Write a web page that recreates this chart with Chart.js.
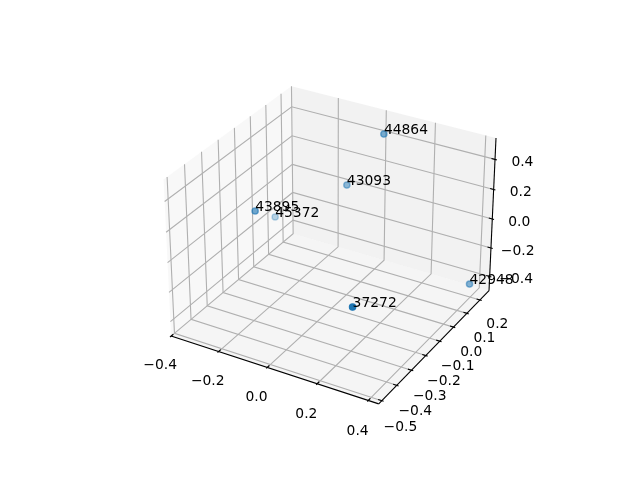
<!DOCTYPE html>
<html lang="en">
<head>
<meta charset="UTF-8">
<title>3D scatter</title>
<script src="https://cdn.jsdelivr.net/npm/chart.js"></script>
<style>
    body { margin: 0; background: #fff; }
</style>
</head>
<body>
<canvas id="chart" width="640" height="480"></canvas>
<script>
// point labels and their 3D positions
const labels = ['44864', '43093', '43895', '45372', '42948', '37272'];
const xs = [0.046, -0.071, -0.258, -0.370, 0.425, 0.288];
const ys = [0.175, 0.118, -0.192, 0.103, 0.141, -0.438];
const zs = [0.474, 0.126, 0.125, -0.220, -0.341, -0.023];

// axis limits and ticks
const xLim = [-0.40, 0.44];
const yLim = [-0.52, 0.27];
const zLim = [-0.50, 0.54];
const xTicks = [-0.4, -0.2, 0.0, 0.2, 0.4];
const yTicks = [-0.5, -0.4, -0.3, -0.2, -0.1, 0.0, 0.1, 0.2];
const zTicks = [-0.4, -0.2, 0.0, 0.2, 0.4];

// view like matplotlib's default 3D axes (elev 30, azim -60)
const elev = 30 * Math.PI / 180, azim = -60 * Math.PI / 180, dist = 10;
const norm = Math.hypot(4, 4, 3);
const aspect = [4, 4, 3].map(v => v * 1.8294640721620434 * 25 / 24 / norm);
const R = aspect.map(v => v / 2);
const w = [Math.cos(elev) * Math.cos(azim), Math.cos(elev) * Math.sin(azim), Math.sin(elev)];
const eye = R.map((r, i) => r + dist * w[i]);
let u = [-w[1], w[0], 0];
const ul = Math.hypot(...u);
u = u.map(c => c / ul);
const v = [w[1] * u[2] - w[2] * u[1], w[2] * u[0] - w[0] * u[2], w[0] * u[1] - w[1] * u[0]];
const dot = (a, b) => a[0] * b[0] + a[1] * b[1] + a[2] * b[2];
const lims = [xLim, yLim, zLim];

function project(x, y, z) {
    const p = [x, y, z].map((c, i) => (c - lims[i][0]) / (lims[i][1] - lims[i][0]) * aspect[i]);
    const d = p.map((c, i) => c - eye[i]);
    const zv = dot(w, d);
    return [dot(u, d) / -zv, dot(v, d) / -zv, dist / zv];
}

const pts = xs.map((x, i) => {
    const q = project(x, ys[i], zs[i]);
    return { x: q[0], y: q[1], d: q[2] };
});
const dmin = Math.min(...pts.map(p => p.d));
const dmax = Math.max(...pts.map(p => p.d));
const colors = pts.map(p => 'rgba(31,119,180,' + (1 - 0.7 * (p.d - dmin) / (dmax - dmin)).toFixed(3) + ')');

const fmt = t => (t < 0 ? '\u2212' : '') + Math.abs(t).toFixed(1);

const box3d = {
    id: 'box3d',
    beforeDatasetsDraw(chart) {
        const ctx = chart.ctx;
        const sx = chart.scales.x, sy = chart.scales.y;
        const px = (x, y, z) => {
            const q = project(x, y, z);
            return [sx.getPixelForValue(q[0]), sy.getPixelForValue(q[1])];
        };
        const [x0, x1] = xLim, [y0, y1] = yLim, [z0, z1] = zLim;
        const dx = (x1 - x0) / 12, dy = (y1 - y0) / 12, dz = (z1 - z0) / 12;

        const poly = (corners, fill) => {
            ctx.beginPath();
            corners.forEach((c, i) => {
                const p = px(...c);
                if (i === 0) ctx.moveTo(p[0], p[1]); else ctx.lineTo(p[0], p[1]);
            });
            ctx.closePath();
            ctx.fillStyle = fill;
            ctx.fill();
        };
        const path = (list, color, lw) => {
            ctx.beginPath();
            list.forEach((c, i) => {
                const p = px(...c);
                if (i === 0) ctx.moveTo(p[0], p[1]); else ctx.lineTo(p[0], p[1]);
            });
            ctx.strokeStyle = color;
            ctx.lineWidth = lw;
            ctx.stroke();
        };

        ctx.save();
        // panes
        poly([[x0, y0, z0], [x0, y1, z0], [x0, y1, z1], [x0, y0, z1]], 'rgba(242,242,242,0.5)');
        poly([[x0, y1, z0], [x1, y1, z0], [x1, y1, z1], [x0, y1, z1]], 'rgba(230,230,230,0.5)');
        poly([[x0, y0, z0], [x1, y0, z0], [x1, y1, z0], [x0, y1, z0]], 'rgba(236,236,236,0.5)');

        // grid
        const gc = '#b0b0b0', glw = 1.1;
        xTicks.forEach(t => path([[t, y0, z0], [t, y1, z0], [t, y1, z1]], gc, glw));
        yTicks.forEach(t => path([[x0, t, z1], [x0, t, z0], [x1, t, z0]], gc, glw));
        zTicks.forEach(t => path([[x1, y1, t], [x0, y1, t], [x0, y0, t]], gc, glw));

        // axis lines
        path([[x0, y0, z0], [x1, y0, z0]], '#000', 1.1);
        path([[x1, y0, z0], [x1, y1, z0]], '#000', 1.1);
        path([[x1, y1, z0], [x1, y1, z1]], '#000', 1.1);

        // ticks and tick labels
        ctx.font = '13.89px "DejaVu Sans"';
        ctx.fillStyle = '#000';
        ctx.textAlign = 'center';
        ctx.textBaseline = 'alphabetic';
        const k = 1.037;
        const label = (t, pos) => {
            const p = px(...pos);
            ctx.fillText(fmt(t), p[0], p[1] + 10.5);
        };
        xTicks.forEach(t => {
            path([[t, y0 - 0.1 * dy, z0], [t, y0 + 0.2 * dy, z0]], '#000', 1.1);
            label(t, [t, y0 - k * dy, z0 - k * dz]);
        });
        yTicks.forEach(t => {
            path([[x1 + 0.1 * dx, t, z0], [x1 - 0.2 * dx, t, z0]], '#000', 1.1);
            label(t, [x1 + k * dx, t, z0 - k * dz]);
        });
        zTicks.forEach(t => {
            path([[x1 + 0.1 * dx, y1, t], [x1 - 0.2 * dx, y1, t]], '#000', 1.1);
            label(t, [x1 + k * dx, y1 + k * dy, t]);
        });
        ctx.restore();
    },
    afterDatasetsDraw(chart) {
        const ctx = chart.ctx;
        const meta = chart.getDatasetMeta(0);
        ctx.save();
        ctx.font = '13.89px "DejaVu Sans"';
        ctx.fillStyle = '#000';
        ctx.textAlign = 'left';
        ctx.textBaseline = 'alphabetic';
        meta.data.forEach((el, i) => ctx.fillText(labels[i], el.x, el.y));
        ctx.restore();
    }
};

new Chart(document.getElementById('chart'), {
    type: 'scatter',
    data: {
        datasets: [{
            data: pts.map(p => ({ x: p.x, y: p.y })),
            backgroundColor: colors,
            borderColor: colors,
            borderWidth: 1.4,
            pointRadius: 3.1,
            clip: false
        }]
    },
    options: {
        responsive: false,
        animation: false,
        layout: { padding: { left: 143.2, right: 127.2, top: 57.6, bottom: 52.8 } },
        scales: {
            x: { type: 'linear', min: -0.095, max: 0.09, display: false },
            y: { type: 'linear', min: -0.095, max: 0.09, display: false }
        },
        plugins: { legend: { display: false }, tooltip: { enabled: false } },
        events: []
    },
    plugins: [box3d]
});
</script>
</body>
</html>
